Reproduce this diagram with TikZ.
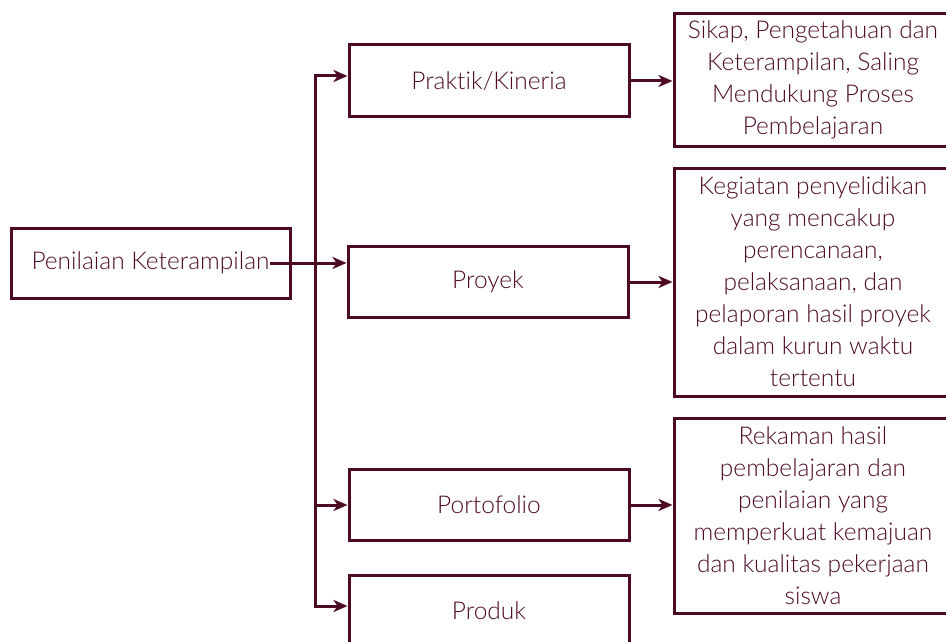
\documentclass[tikz,border=0pt]{standalone}
\usepackage{fontspec}
\setmainfont{Lato}[UprightFont=* Light,Ligatures={NoCommon}]
\usetikzlibrary{calc,arrows.meta}
\definecolor{maroon}{HTML}{4D0A24}

\begin{document}
\begin{tikzpicture}[x=1pt,y=-1pt,
    box/.style={draw=maroon,line width=3pt,text=maroon,align=center,inner sep=0pt,
                font=\fontsize{24.5}{32}\selectfont},
    conn/.style={draw=maroon,line width=3pt,-{Stealth[length=14pt,width=12pt,inset=4pt]}}]
  \useasboundingbox (0,0) rectangle (946,642);
  % left column
  \node[box,minimum width=279pt,minimum height=70pt](root)at(150.5,263){Penilaian Keterampilan};
  % middle column
  \node[box,minimum width=280pt,minimum height=72pt](praktik)at(489,81){Praktik/Kineria};
  \node[box,minimum width=280pt,minimum height=71pt](proyek)at(488,282){Proyek};
  \node[box,minimum width=280pt,minimum height=71pt](porto)at(489,505){Portofolio};
  \node[box,minimum width=280pt,minimum height=71pt](produk)at(489,611){Produk};
  % right column
  \node[box,minimum width=278pt,minimum height=132pt](sikap)at(813,80)
       {Sikap, Pengetahuan dan\\Keterampilan, Saling\\Mendukung Proses\\Pembelajaran};
  \node[box,minimum width=278pt,minimum height=228pt](kegiatan)at(813,282)
       {Kegiatan penyelidikan\\yang mencakup\\perencanaan,\\pelaksanaan, dan\\pelaporan hasil proyek\\dalam kurun waktu\\tertentu};
  \node[box,minimum width=278pt,minimum height=195pt](rekaman)at(813,515.5)
       {Rekaman hasil\\pembelajaran dan\\penilaian yang\\memperkuat kemajuan\\dan kualitas pekerjaan\\siswa};
  % connectors
  \coordinate(rootout)at(270,263);
  \coordinate(bus)at(315,263);
  \draw[conn](rootout)--([yshift=19pt]proyek.west);
  \draw[conn](bus)|-([yshift=5pt]praktik.west);
  \draw[conn](bus)|-(porto.west);
  \draw[conn](bus)|-([yshift=5pt]produk.west);
  \draw[conn](praktik.east)--(praktik.east-|sikap.west);
  \draw[conn](proyek.east)--(proyek.east-|kegiatan.west);
  \draw[conn](porto.east)--(porto.east-|rekaman.west);
\end{tikzpicture}
\end{document}
